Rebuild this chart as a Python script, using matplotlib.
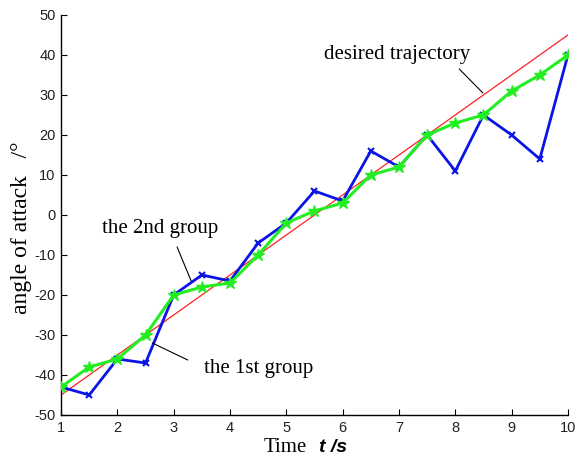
import matplotlib
matplotlib.use("Agg")
import matplotlib.pyplot as plt
import numpy as np

plt.rcParams['axes.unicode_minus'] = False

t = [1, 1.5, 2, 2.5, 3, 3.5, 4, 4.5, 5, 5.5, 6, 6.5, 7, 7.5, 8, 8.5, 9, 9.5, 10]
group1 = [-43, -45, -36, -37, -20, -15, -16.5, -7, -2, 6, 3.5, 16, 12, 20, 11, 25, 20, 14, 40]
group2 = [-43, -38, -36, -30, -20, -18, -17, -10, -2, 1, 3, 10, 12, 20, 23, 25, 31, 35, 40]
desired_t = [1, 10]
desired = [-45, 45]
xticks = [1, 2, 3, 4, 5, 6, 7, 8, 9, 10]
yticks = [-50, -40, -30, -20, -10, 0, 10, 20, 30, 40, 50]

fig = plt.figure(figsize=(5.76, 4.61), dpi=100)
ax = fig.add_axes([0.106, 0.0998, 0.880, 0.8677])

ax.plot(desired_t, desired, color='#ff2020', lw=0.9, zorder=1)
ax.plot(t, group1, color='#0a14e6', lw=2.0, marker='x', ms=5, mew=1.5, zorder=2)
ax.plot(t, group2, color='#22ee22', lw=2.2, marker='*', ms=9, mew=1, zorder=3)

ax.set_xlim(1, 10)
ax.set_ylim(-50, 50)
ax.set_xticks(xticks)
ax.set_yticks(yticks)
for s in ['top', 'right']:
    ax.spines[s].set_visible(False)
for s in ['left', 'bottom']:
    ax.spines[s].set_linewidth(1.0)
ax.tick_params(direction='in', length=4, labelsize=10.5, pad=4, labelcolor='#222222')
for lab in ax.get_xticklabels() + ax.get_yticklabels():
    lab.set_family('Liberation Sans')

serif = 'Liberation Serif'
line_kw = dict(arrowstyle='-', color='black', lw=0.8, shrinkA=0, shrinkB=0)

ax.text(6.96, 39, 'desired trajectory', fontsize=15, family=serif, ha='center', va='baseline')
ax.annotate('', xy=(8.49, 30.5), xytext=(8.07, 36.5), arrowprops=line_kw)

ax.text(2.76, -4.5, 'the 2nd group', fontsize=15, family=serif, ha='center', va='baseline')
ax.annotate('', xy=(3.31, -16.5), xytext=(3.06, -8), arrowprops=line_kw)

ax.text(4.5, -39.5, 'the 1st group', fontsize=15, family=serif, ha='center', va='baseline')
ax.annotate('', xy=(2.62, -32), xytext=(3.25, -36.25), arrowprops=line_kw)

fig.text(0.038, 0.505, 'angle of attack   /°', rotation=90, fontsize=17,
         family=serif, ha='center', va='center')
fig.text(0.495, 0.030, 'Time', fontsize=15, family=serif,
         ha='center', va='center')
fig.text(0.579, 0.030, 't /s', fontsize=14, family='Liberation Sans',
         fontweight='bold', style='italic', ha='center', va='center')

fig.savefig('out.png', dpi=100)
